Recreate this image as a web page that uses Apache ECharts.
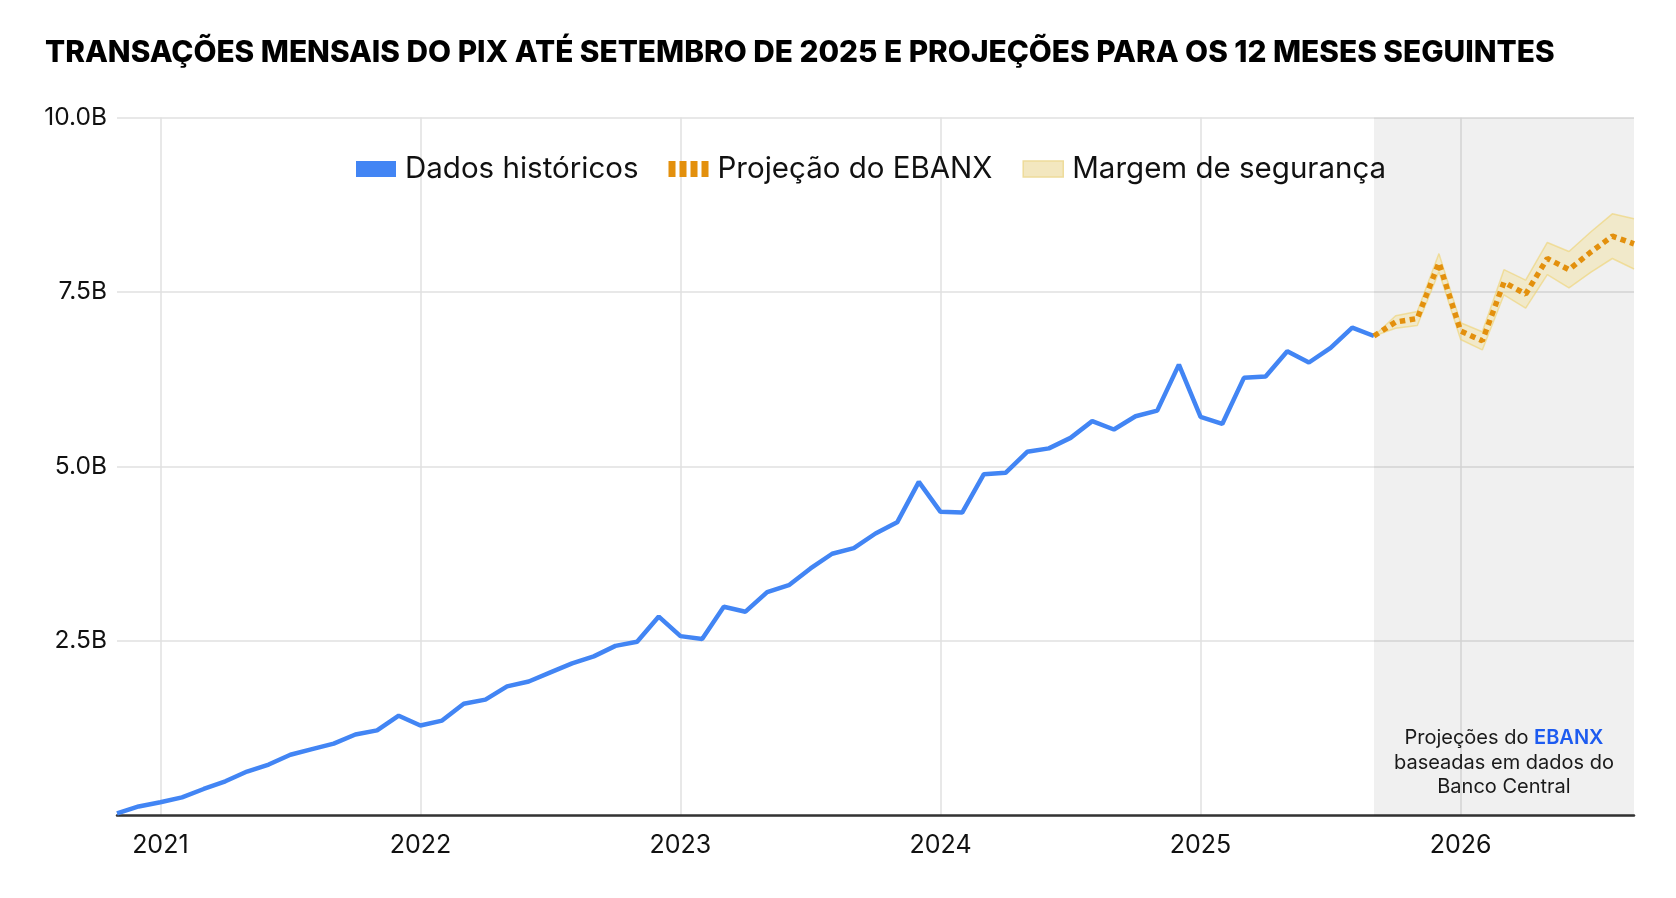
<!DOCTYPE html>
<html><head><meta charset="utf-8">
<script src="https://cdn.jsdelivr.net/npm/echarts@6/dist/echarts.min.js"></script>
<style>html,body{margin:0;padding:0;background:#fff}#c{width:1676px;height:898px}</style>
</head><body><div id="c"></div>
<script>
const months = [
  '2020-11','2020-12',
  '2021-01','2021-02','2021-03','2021-04','2021-05','2021-06','2021-07','2021-08','2021-09','2021-10','2021-11','2021-12',
  '2022-01','2022-02','2022-03','2022-04','2022-05','2022-06','2022-07','2022-08','2022-09','2022-10','2022-11','2022-12',
  '2023-01','2023-02','2023-03','2023-04','2023-05','2023-06','2023-07','2023-08','2023-09','2023-10','2023-11','2023-12',
  '2024-01','2024-02','2024-03','2024-04','2024-05','2024-06','2024-07','2024-08','2024-09','2024-10','2024-11','2024-12',
  '2025-01','2025-02','2025-03','2025-04','2025-05','2025-06','2025-07','2025-08','2025-09','2025-10','2025-11','2025-12',
  '2026-01','2026-02','2026-03','2026-04','2026-05','2026-06','2026-07','2026-08','2026-09'
];
// Billions of transactions, Nov 2020 .. Sep 2025
const historical = [
  0.03, 0.13,
  0.19, 0.26, 0.38, 0.49, 0.63, 0.73, 0.87, 0.95, 1.03, 1.16, 1.22, 1.43,
  1.29, 1.36, 1.60, 1.66, 1.85, 1.92, 2.05, 2.18, 2.28, 2.43, 2.49, 2.85,
  2.57, 2.53, 2.99, 2.92, 3.20, 3.30, 3.54, 3.75, 3.83, 4.04, 4.20, 4.78,
  4.35, 4.34, 4.89, 4.91, 5.21, 5.26, 5.41, 5.65, 5.53, 5.72, 5.80, 6.46,
  5.71, 5.61, 6.27, 6.29, 6.65, 6.49, 6.70, 6.99, 6.87
];
// Sep 2025 .. Sep 2026
const projection = [6.87, 7.07, 7.12, 7.92, 6.94, 6.80, 7.64, 7.47, 7.98, 7.82, 8.07, 8.30, 8.19];
const bandLower  = [6.87, 6.98, 7.02, 7.79, 6.82, 6.67, 7.46, 7.27, 7.75, 7.56, 7.78, 7.98, 7.83];
const bandUpper  = [6.87, 7.16, 7.22, 8.05, 7.06, 6.93, 7.82, 7.67, 8.21, 8.08, 8.36, 8.62, 8.55];
const projStart = '2025-09';
const projEnd = '2026-09';

const startIdx = months.indexOf(projStart);
const pad = (n) => new Array(n).fill(null);
const histData = historical.concat(pad(months.length - historical.length));
const projData = pad(startIdx).concat(projection);
const lowData = pad(startIdx).concat(bandLower);
const diffData = pad(startIdx).concat(bandUpper.map((u, i) => +(u - bandLower[i]).toFixed(3)));

const FONT = 'Inter, "Noto Sans", sans-serif';
const chart = echarts.init(document.getElementById('c'), null, {renderer: 'canvas'});
chart.setOption({
  backgroundColor: '#ffffff',
  animation: false,
  title: {
    text: 'TRANSAÇÕES MENSAIS DO PIX ATÉ SETEMBRO DE 2025 E PROJEÇÕES PARA OS 12 MESES SEGUINTES',
    left: 45, top: 38, padding: 0,
    textStyle: {fontFamily: FONT, fontSize: 29.8, fontWeight: 800, color: '#000'}
  },
  legend: {
    left: 356, top: 154, padding: 0, itemGap: 30, itemWidth: 40, itemHeight: 16,
    textStyle: {fontFamily: FONT, fontSize: 29.5, color: '#111', padding: [0, 0, 0, 4]},
    data: [
      {name: 'Dados históricos', icon: 'rect', itemStyle: {color: '#4285f4'}},
      {name: 'Projeção do EBANX', icon: 'path://M0,0h7v16h-7z M11,0h7v16h-7z M22,0h7v16h-7z M33,0h7v16h-7z',
        itemStyle: {color: '#e3900d'}},
      {name: 'Margem de segurança', icon: 'rect', itemStyle: {color: '#f3e7bf', borderColor: '#eedb9a', borderWidth: 1.5}}
    ]
  },
  grid: {left: 117, right: 42, top: 117.5, bottom: 82.5, containLabel: false},
  xAxis: {
    type: 'category', data: months, boundaryGap: false,
    axisLine: {lineStyle: {color: '#333', width: 2.5}},
    axisTick: {show: false},
    axisLabel: {
      interval: (i, v) => v.endsWith('-01'),
      formatter: (v) => v.slice(0, 4),
      fontFamily: FONT, fontSize: 25, color: '#111', margin: 17
    },
    splitLine: {show: true, interval: (i, v) => v.endsWith('-01'), lineStyle: {color: '#e0e0e0', width: 1.5}}
  },
  yAxis: {
    type: 'value', min: 0, max: 10, interval: 2.5,
    axisLine: {show: false}, axisTick: {show: false},
    axisLabel: {
      formatter: (v) => v === 0 ? '' : v.toFixed(1) + 'B',
      fontFamily: FONT, fontSize: 24.5, color: '#111', margin: 10
    },
    splitLine: {lineStyle: {color: '#e0e0e0', width: 1.5}}
  },
  series: [
    {
      name: 'bandBase', type: 'line', stack: 'band', data: lowData, symbol: 'none', z: 1,
      lineStyle: {color: 'rgba(238,208,100,0.55)', width: 1.5},
      silent: true,
      markArea: {
        silent: true,
        itemStyle: {color: 'rgba(0,0,0,0.06)'},
        label: {
          show: true, position: 'insideBottom', distance: 16,
          formatter: 'Projeções do {logo|EBANX}\nbaseadas em dados do\nBanco Central',
          fontFamily: FONT, fontSize: 20, lineHeight: 24.5, color: '#1a1a1a', align: 'center',
          rich: {logo: {fontFamily: FONT, fontSize: 20, fontWeight: 600, color: '#1d5bf0', lineHeight: 24.5}}
        },
        data: [[{xAxis: projStart}, {xAxis: projEnd}]]
      }
    },
    {
      name: 'Margem de segurança', type: 'line', stack: 'band', data: diffData, symbol: 'none', z: 2,
      lineStyle: {color: 'rgba(238,208,100,0.55)', width: 1.5},
      itemStyle: {color: '#f3e7bf'},
      areaStyle: {color: 'rgba(246,214,105,0.4)'}
    },
    {
      name: 'Dados históricos', type: 'line', data: histData, symbol: 'none', z: 3,
      lineStyle: {color: '#4285f4', width: 4.5}, itemStyle: {color: '#4285f4'}
    },
    {
      name: 'Projeção do EBANX', type: 'line', data: projData, symbol: 'none', z: 4,
      lineStyle: {color: '#e3900d', width: 5.5, type: [5.5, 4.5]}, itemStyle: {color: '#e3900d'}
    }
  ]
});
</script></body></html>
